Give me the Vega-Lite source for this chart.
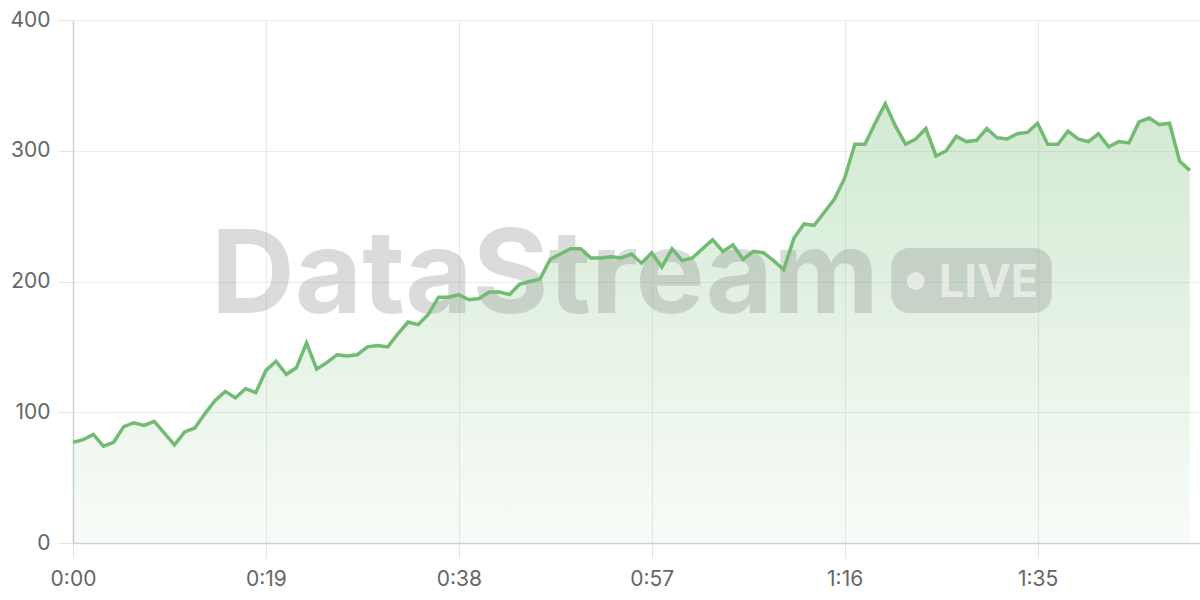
{
  "$schema": "https://vega.github.io/schema/vega-lite/v6.json",
  "width": 1127,
  "height": 523,
  "autosize": {"type": "none"},
  "padding": {"left": 73, "top": 20, "right": 0, "bottom": 57},
  "background": "white",
  "config": {
    "view": {"stroke": null},
    "font": "Inter",
    "axis": {
      "labelFont": "Inter",
      "labelFontSize": 21,
      "labelColor": "#666666",
      "labelFlush": false,
      "gridColor": "#ebebeb",
      "gridWidth": 1.2,
      "domainColor": "#d2d2d2",
      "domainWidth": 1.5,
      "tickColor": "#e6e6e6",
      "tickWidth": 1.2,
      "tickSize": 15,
      "title": null
    }
  },
  "data": {
    "values": [
      {"t": 0, "v": 77}, {"t": 1, "v": 79}, {"t": 2, "v": 83}, {"t": 3, "v": 74}, {"t": 4, "v": 77},
      {"t": 5, "v": 89}, {"t": 6, "v": 92}, {"t": 7, "v": 90}, {"t": 8, "v": 93}, {"t": 9, "v": 84},
      {"t": 10, "v": 75}, {"t": 11, "v": 85}, {"t": 12, "v": 88}, {"t": 13, "v": 99}, {"t": 14, "v": 109},
      {"t": 15, "v": 116}, {"t": 16, "v": 111}, {"t": 17, "v": 118}, {"t": 18, "v": 115}, {"t": 19, "v": 132},
      {"t": 20, "v": 139}, {"t": 21, "v": 129}, {"t": 22, "v": 134}, {"t": 23, "v": 153}, {"t": 24, "v": 133},
      {"t": 25, "v": 138}, {"t": 26, "v": 144}, {"t": 27, "v": 143}, {"t": 28, "v": 144}, {"t": 29, "v": 150},
      {"t": 30, "v": 151}, {"t": 31, "v": 150}, {"t": 32, "v": 160}, {"t": 33, "v": 169}, {"t": 34, "v": 167},
      {"t": 35, "v": 175}, {"t": 36, "v": 188}, {"t": 37, "v": 188}, {"t": 38, "v": 190}, {"t": 39, "v": 186},
      {"t": 40, "v": 187}, {"t": 41, "v": 192}, {"t": 42, "v": 192}, {"t": 43, "v": 190}, {"t": 44, "v": 198},
      {"t": 45, "v": 200}, {"t": 46, "v": 202}, {"t": 47, "v": 217}, {"t": 48, "v": 221}, {"t": 49, "v": 225},
      {"t": 50, "v": 225}, {"t": 51, "v": 218}, {"t": 52, "v": 218}, {"t": 53, "v": 219}, {"t": 54, "v": 218},
      {"t": 55, "v": 221}, {"t": 56, "v": 214}, {"t": 57, "v": 222}, {"t": 58, "v": 211}, {"t": 59, "v": 225},
      {"t": 60, "v": 216}, {"t": 61, "v": 218}, {"t": 62, "v": 225}, {"t": 63, "v": 232}, {"t": 64, "v": 223},
      {"t": 65, "v": 228}, {"t": 66, "v": 217}, {"t": 67, "v": 223}, {"t": 68, "v": 222}, {"t": 69, "v": 216},
      {"t": 70, "v": 209}, {"t": 71, "v": 233}, {"t": 72, "v": 244}, {"t": 73, "v": 243}, {"t": 74, "v": 253},
      {"t": 75, "v": 263}, {"t": 76, "v": 279}, {"t": 77, "v": 305}, {"t": 78, "v": 305}, {"t": 79, "v": 321},
      {"t": 80, "v": 336}, {"t": 81, "v": 319}, {"t": 82, "v": 305}, {"t": 83, "v": 309}, {"t": 84, "v": 317},
      {"t": 85, "v": 296}, {"t": 86, "v": 300}, {"t": 87, "v": 311}, {"t": 88, "v": 307}, {"t": 89, "v": 308},
      {"t": 90, "v": 317}, {"t": 91, "v": 310}, {"t": 92, "v": 309}, {"t": 93, "v": 313}, {"t": 94, "v": 314},
      {"t": 95, "v": 321}, {"t": 96, "v": 305}, {"t": 97, "v": 305}, {"t": 98, "v": 315}, {"t": 99, "v": 309},
      {"t": 100, "v": 307}, {"t": 101, "v": 313}, {"t": 102, "v": 303}, {"t": 103, "v": 307}, {"t": 104, "v": 306},
      {"t": 105, "v": 322}, {"t": 106, "v": 325}, {"t": 107, "v": 320}, {"t": 108, "v": 321}, {"t": 109, "v": 292},
      {"t": 110, "v": 285}
    ]
  },
  "encoding": {
    "x": {
      "field": "t",
      "type": "quantitative",
      "scale": {"domain": [0, 111], "nice": false, "zero": true},
      "axis": {
        "values": [0, 19, 38, 57, 76, 95],
        "labelPadding": 10,
        "labelExpr": "floor(datum.value / 60) + ':' + (datum.value % 60 < 10 ? '0' : '') + (datum.value % 60)"
      }
    },
    "y": {
      "field": "v",
      "type": "quantitative",
      "scale": {"domain": [0, 400], "nice": false},
      "axis": {"values": [0, 100, 200, 300, 400], "labelPadding": 8}
    }
  },
  "layer": [
    {
      "mark": {
        "type": "area",
        "interpolate": "linear",
        "color": {
          "gradient": "linear",
          "x1": 0, "y1": 0, "x2": 0, "y2": 1,
          "stops": [
            {"offset": 0, "color": "rgba(114,187,114,0.32)"},
            {"offset": 1, "color": "rgba(114,187,114,0.05)"}
          ]
        }
      }
    },
    {
      "data": {"values": [{"t": 80.6, "t2": 96.4, "v": 225.6, "v2": 175.9}]},
      "mark": {"type": "rect", "color": "#8a8a8a", "opacity": 0.3, "cornerRadius": 18},
      "encoding": {
        "x": {"field": "t", "type": "quantitative"},
        "x2": {"field": "t2"},
        "y": {"field": "v", "type": "quantitative"},
        "y2": {"field": "v2"}
      }
    },
    {
      "data": {"values": [{"t": 13.6, "v": 175.9, "label": "DataStream"}]},
      "mark": {
        "type": "text",
        "font": "Inter",
        "fontWeight": "bold",
        "fontSize": 116,
        "align": "left",
        "baseline": "alphabetic",
        "color": "#8a8a8a",
        "opacity": 0.3
      },
      "encoding": {
        "text": {"field": "label"}
      }
    },
    {
      "data": {"values": [{"t": 83.0, "v": 200.4}]},
      "mark": {"type": "point", "filled": true, "size": 320, "color": "white", "opacity": 0.55},
      "encoding": {}
    },
    {
      "data": {"values": [{"t": 85.3, "v": 188.0, "label": "LIVE"}]},
      "mark": {
        "type": "text",
        "font": "Inter",
        "fontWeight": "bold",
        "fontSize": 45,
        "align": "left",
        "baseline": "alphabetic",
        "color": "white",
        "opacity": 0.55
      },
      "encoding": {
        "text": {"field": "label"}
      }
    },
    {
      "mark": {"type": "line", "color": "#72bb72", "strokeWidth": 3.5, "interpolate": "linear"}
    }
  ]
}
